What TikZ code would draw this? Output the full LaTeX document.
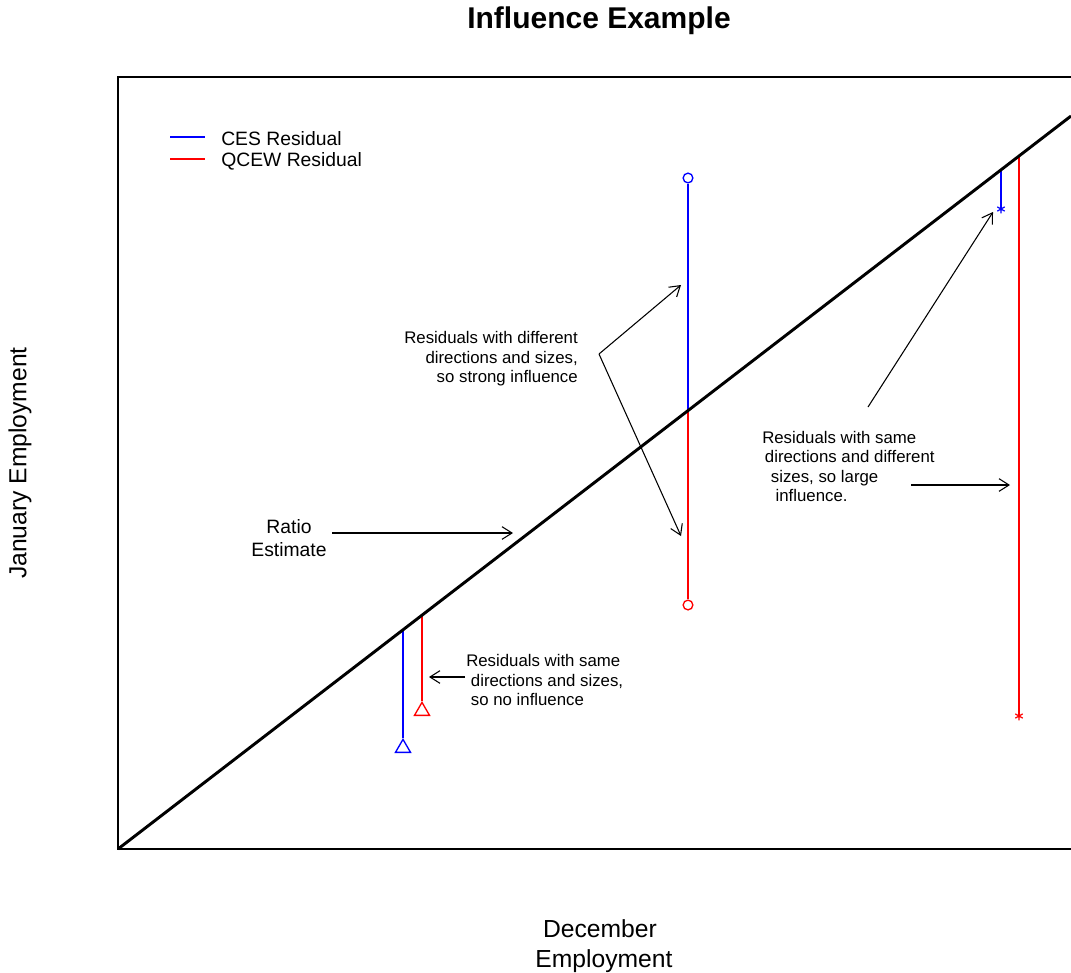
\documentclass[tikz,border=0pt]{standalone}
\usepackage{fontspec}
\setmainfont{Liberation Sans}
\usepackage{tikz}
\usetikzlibrary{arrows.meta}
\usetikzlibrary{shapes.geometric}
\usetikzlibrary{plotmarks}
\usetikzlibrary{positioning}
\tikzset{
  Resid/.style={line width=1.1pt,draw=#1}, % residual lines
  CESLine/.style={Resid=blue},
  QCEWLine/.style={Resid=red},
  Ring/.style={circle,draw=#1,line width=1pt,inner sep=0pt,minimum size=7.3pt}, % circle marker
  Tri/.style={regular polygon,regular polygon sides=3,draw=#1,line width=1pt,inner sep=0pt,minimum size=13pt}, % triangle marker
  Pointer/.style={thin,line width=0.8pt,->}, % arrows to the residuals
  Note/.style={inner sep=0pt,font={\fontsize{12.6}{14.6}\selectfont}},
  LegendText/.style={inner sep=0pt,font={\fontsize{14.5}{16}\selectfont}},
  AxisLabel/.style={inner sep=0pt,font={\fontsize{18.5}{22}\selectfont}}
}

\begin{document}
\begin{tikzpicture}[x=0.75pt,y=-0.75pt,
>={Straight Barb[length=7.5pt,width=9.5pt]} % open arrow tips
]
\useasboundingbox (0,0) rectangle (1071,972);

%Frame
\coordinate (O) at (118,849);
\coordinate (E) at (1071,116);
\draw[line width=0.85pt] (1071,77) -- (118,77) -- (O) -- (1071,849);

%Labels
\node[font={\bfseries\fontsize{22.5}{24}\selectfont},inner sep=0pt] (title) at (599,21) {Influence Example};
\node[AxisLabel,align=center] (xlab) at (600,946) {December\\\hspace*{6pt}Employment};
\node[AxisLabel,rotate=90] (ylab) at (20,463) {January Employment};

%Legend
\coordinate (legCa) at (170,137);
\coordinate (legCb) at (205,137);
\coordinate (legQa) at (170,159);
\coordinate (legQb) at (205,159);
\draw[CESLine] (legCa) -- (legCb);
\draw[QCEWLine] (legQa) -- (legQb);
\node[LegendText,right=12pt of legCb,yshift=-1.5pt] (legC) {CES Residual};
\node[LegendText,right=12pt of legQb,yshift=-1.5pt] (legQ) {QCEW Residual};

%Residuals
\coordinate (dA) at (403,629.8);
\coordinate (dB) at (422,615.2);
\coordinate (dC) at (688,410.6);
\coordinate (dD) at (1001,169.8);
\coordinate (dE) at (1019,156.0);

\node[Tri=blue] (cesA) at (403,748) {};
\node[Tri=red] (qcewA) at (422,711) {};
\node[Ring=blue] (cesC) at (688,178) {};
\node[Ring=red] (qcewC) at (688,605) {};
\coordinate (cesD) at (1001,209);
\coordinate (qcewE) at (1019,716);

\draw[CESLine] (dA) -- (cesA);
\draw[QCEWLine] (dB) -- (qcewA);
\draw[CESLine] (dC) -- (cesC);
\draw[QCEWLine] (dC) -- (qcewC);
\draw[CESLine] (dD) -- (cesD);
\draw[QCEWLine] (dE) -- (qcewE);
\draw[blue,line width=0.9pt] plot[mark=asterisk,mark size=3.2pt] coordinates {(cesD)};
\draw[red,line width=0.9pt] plot[mark=asterisk,mark size=3.2pt] coordinates {(qcewE)};

%Ratio estimate
\draw[line width=2.2pt] (O) -- (E);

%Notes
\node[Note,font={\fontsize{14.5}{17.5}\selectfont},align=center] (ratio) at (289,538) {Ratio\\Estimate};
\node[Note,anchor=east,align=right] (noteDiff) at (578,359) {Residuals with different\\directions and sizes,\\so strong influence};
\node[Note,anchor=west,align=left] (noteSame) at (466,680) {Residuals with same\\\hspace*{3.5pt}directions and sizes,\\\hspace*{3.5pt}so no influence};
\node[Note,anchor=west,align=left] (noteLarge) at (762,466.5) {Residuals with same\\\hspace*{2pt}directions and different\\\hspace*{6.5pt}sizes, so large\\\hspace*{10pt}influence.};

%Pointers
\coordinate (ratioTail) at (332,533);
\coordinate (ratioTip) at (513,533);
\coordinate (diffFork) at (599,354);
\coordinate (diffUp) at (681,285);
\coordinate (diffDown) at (681,536);
\coordinate (sameTail) at (465,677);
\coordinate (sameTip) at (429,677);
\coordinate (largeTailA) at (868,407);
\coordinate (largeTipA) at (993,212);
\coordinate (largeTailB) at (911,485);
\coordinate (largeTipB) at (1010,485);

\draw[Pointer] (ratioTail) -- (ratioTip);
\draw[Pointer] (diffFork) -- (diffUp);
\draw[Pointer] (diffFork) -- (diffDown);
\draw[Pointer] (sameTail) -- (sameTip);
\draw[Pointer] (largeTailA) -- (largeTipA);
\draw[Pointer] (largeTailB) -- (largeTipB);

\end{tikzpicture}
\end{document}
